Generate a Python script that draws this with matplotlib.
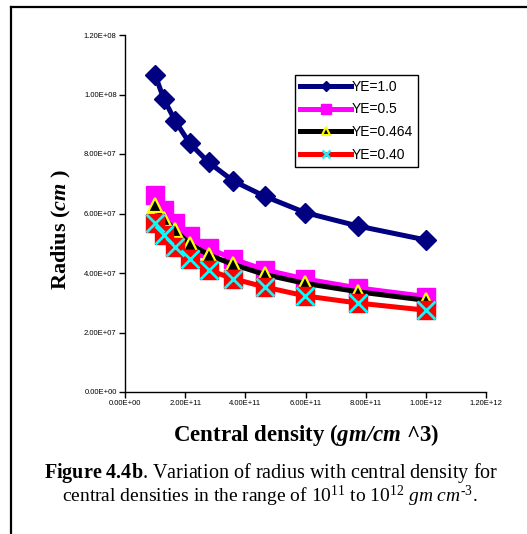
import matplotlib.pyplot as plt
from matplotlib.lines import Line2D
from matplotlib.ticker import FuncFormatter

plt.rcParams['mathtext.fontset'] = 'custom'
plt.rcParams['mathtext.rm'] = 'Liberation Serif'
plt.rcParams['mathtext.it'] = 'Liberation Serif:italic'
plt.rcParams['mathtext.bf'] = 'Liberation Serif:bold'
plt.rcParams['mathtext.bfit'] = 'Liberation Serif:italic:bold'

# central density (gm/cm^3) and radius (cm) for each electron fraction
rho = [1.00e11, 1.29e11, 1.67e11, 2.15e11, 2.78e11, 3.59e11, 4.64e11, 5.99e11, 7.74e11, 1.00e12]
r_ye100 = [10.66e7, 9.85e7, 9.11e7, 8.36e7, 7.72e7, 7.10e7, 6.58e7, 6.03e7, 5.58e7, 5.11e7]
r_ye050 = [6.63e7, 6.13e7, 5.68e7, 5.23e7, 4.84e7, 4.47e7, 4.11e7, 3.80e7, 3.50e7, 3.21e7]
r_ye0464 = [6.27e7, 5.82e7, 5.43e7, 4.98e7, 4.61e7, 4.29e7, 3.95e7, 3.65e7, 3.37e7, 3.08e7]
r_ye040 = [5.67e7, 5.28e7, 4.88e7, 4.48e7, 4.10e7, 3.81e7, 3.53e7, 3.23e7, 2.99e7, 2.75e7]
labels = ['YE=1.0', 'YE=0.5', 'YE=0.464', 'YE=0.40']
xticks = [0, 2e11, 4e11, 6e11, 8e11, 1e12, 1.2e12]
yticks = [0, 2e7, 4e7, 6e7, 8e7, 1e8, 1.2e8]

fig = plt.figure(figsize=(5.27, 5.34), dpi=100)
ax = fig.add_axes([125/527, 1-392/534, 361/527, 357/534])

lw = 3.6
ax.plot(rho, r_ye100, color='#000080', lw=lw, marker='D', ms=10,
        mfc='#000080', mec='#000080', mew=1)
ax.plot(rho, r_ye050, color='#ff00ff', lw=lw, marker='s', ms=13,
        mfc='#ff00ff', mec='#ff00ff', mew=1)
ax.plot(rho, r_ye0464, color='black', lw=lw, marker='^', ms=10.5,
        mfc='black', mec='#ffff00', mew=1.6)
ax.plot(rho, r_ye040, color='red', lw=lw, marker='s', ms=13.5,
        mfc='red', mec='red', mew=1)
ax.plot(rho, r_ye040, ls='none', marker='x', ms=13, mec='#00ffff', mew=2)

ax.set_xlim(0, 1.2e12)
ax.set_ylim(0, 1.2e8)
ax.set_xticks(xticks)
ax.set_yticks(yticks)
fmt = FuncFormatter(lambda v, p: '{:.2E}'.format(v))
ax.xaxis.set_major_formatter(fmt)
ax.yaxis.set_major_formatter(fmt)
ax.tick_params(labelsize=5.5, length=4, width=1, direction='out', pad=2)
for t in ax.get_xticklabels() + ax.get_yticklabels():
    t.set_family('Liberation Sans')
ax.spines['top'].set_visible(False)
ax.spines['right'].set_visible(False)
ax.spines['left'].set_linewidth(1)
ax.spines['bottom'].set_linewidth(1)

handles = [
    Line2D([], [], color='#000080', lw=lw, marker='D', ms=5, mfc='#000080', mec='#000080'),
    Line2D([], [], color='#ff00ff', lw=lw, marker='s', ms=7, mfc='#ff00ff', mec='#ff00ff'),
    Line2D([], [], color='black', lw=lw, marker='^', ms=6, mfc='black', mec='#ffff00', mew=1.5),
    Line2D([], [], color='red', lw=lw, marker='x', ms=6, mec='#00ffff', mew=1.8),
]
leg = fig.legend(handles, labels, loc='upper left',
                 bbox_to_anchor=(295/527, 1-75/534), frameon=True, fancybox=False,
                 edgecolor='black', framealpha=1, borderpad=0.35, labelspacing=0.62,
                 handlelength=3.7, handletextpad=0.05, borderaxespad=0,
                 prop={'family': 'Liberation Sans', 'size': 10})
leg.get_frame().set_linewidth(1)

fig.text(61/527, 1-230/534, r'Radius ($\mathbfit{cm}$ )', rotation=90,
         ha='center', va='center', family='Liberation Serif', weight='bold', size=16)
fig.text(306/527, 1-435/534, r'Central density ($\mathbfit{gm/cm}$ ^3)',
         ha='center', va='center', family='Liberation Serif', weight='bold', size=16.5)
fig.text(271/527, 1-473/534,
         r'$\mathbf{Figure\ 4.4b}$. Variation of radius with central density for',
         ha='center', va='center', family='Liberation Serif', size=14.5)
fig.text(270/527, 1-496/534,
         r'central densities in the range of 10$^{11}$ to 10$^{12}$ $\mathit{gm\ cm}^{\text{-3}}$.',
         ha='center', va='center', family='Liberation Serif', size=14)

# outer frame (left and top edges)
fig.add_artist(Line2D([11/527, 11/527], [0, 1-7/534], color='black', lw=1.6))
fig.add_artist(Line2D([11/527, 1], [1-7/534, 1-7/534], color='black', lw=1.6))

fig.savefig('out.png', dpi=100)
